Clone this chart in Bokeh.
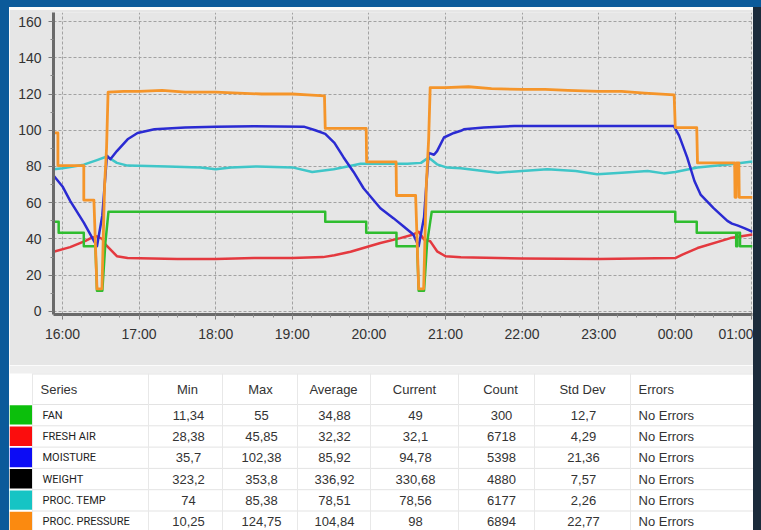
from bokeh.plotting import figure
from bokeh.models import Range1d, FixedTicker, ColumnDataSource, Div
from bokeh.layouts import column, row
from bokeh.embed import file_html
from bokeh.resources import INLINE
from bokeh.core.properties import value

# ---------------- data ----------------
# time in decimal hours (values above 24 are after midnight)
HOUR_TICKS = [16, 17, 18, 19, 20, 21, 22, 23, 24, 25]
HOUR_LABELS = ["16:00", "17:00", "18:00", "19:00", "20:00", "21:00", "22:00", "23:00", "00:00", "01:00"]
Y_TICKS = [0, 20, 40, 60, 80, 100, 120, 140, 160]

FAN_T = [15.883, 15.95, 15.95, 16.278, 16.278, 16.43, 16.45, 16.52, 16.56, 16.60, 19.43, 19.43,
         19.965, 19.965, 20.36, 20.36, 20.63, 20.65, 20.72, 20.76, 20.82, 24.0, 24.0, 24.28, 24.28,
         24.795, 24.795, 24.81, 24.81, 24.845, 24.845, 25.01]
FAN_V = [49.5, 49.5, 43.5, 43.5, 36, 36, 11.5, 11.5, 38, 55, 55, 49.5,
         49.5, 43.5, 43.5, 36, 36, 11.5, 11.5, 38, 55, 55, 49.5, 49.5, 43.5,
         43.5, 36, 36, 43.5, 43.5, 36, 36]

AIR_T = [15.883, 16.1, 16.3, 16.37, 16.45, 16.52, 16.56, 16.63, 16.71, 16.85, 17.5, 18.0, 18.5,
         19.0, 19.4, 19.55, 19.76, 20.15, 20.41, 20.58, 20.65, 20.72, 20.80, 20.89, 21.0, 21.2,
         22.0, 23.0, 24.0, 24.1, 24.29, 24.72, 25.01]
AIR_V = [33, 35.5, 39, 40.5, 41.5, 40, 37, 34, 30.5, 29.5, 29, 29, 29.5,
         29.5, 30, 31, 33, 37.8, 40.5, 42.5, 44, 39.7, 38.8, 33.2, 30.5, 29.9,
         29.2, 29, 29.5, 31.5, 35, 40.5, 42.5]

MOIST_T = [15.883, 16.0, 16.1, 16.278, 16.41, 16.45, 16.52, 16.58, 16.625, 16.71, 16.85, 16.98,
           17.2, 17.37, 17.6, 18.0, 18.5, 19.15, 19.3, 19.43, 19.55, 19.67, 19.8, 19.93, 20.15,
           20.32, 20.45, 20.58, 20.65, 20.72, 20.78, 20.85, 20.89, 20.98, 21.11, 21.2, 21.24,
           21.5, 21.9, 23.98, 24.05, 24.155, 24.25, 24.33, 24.5, 24.68, 24.74, 24.81, 24.9, 25.01]
MOIST_V = [75, 69, 61, 49, 39, 36, 53, 86, 84, 88.5, 95, 98.5,
           100.5, 101, 101.5, 102, 102.2, 102, 100, 98, 93, 85, 77, 68, 57,
           51.5, 47, 42.5, 36, 52, 87.5, 86.5, 88.5, 96, 98.5, 99.7, 100.5,
           101.5, 102.4, 102.4, 97, 85, 72, 64.5, 57, 50, 48.5, 47.5, 46, 44]

TEMP_T = [15.883, 16.0, 16.278, 16.45, 16.58, 16.71, 16.85, 17.37, 17.8, 18.0, 18.2, 18.54,
          19.0, 19.26, 19.54, 19.72, 19.89, 20.15, 20.5, 20.68, 20.78, 20.89, 21.02, 21.2,
          21.68, 22.0, 22.33, 22.7, 22.98, 23.3, 23.64, 23.85, 24.0, 24.29, 24.72, 25.01]
TEMP_V = [78.5, 79, 81, 83.5, 85.5, 82, 80.5, 80, 79.5, 78.5, 79.5, 80,
          79.5, 77, 78.5, 80, 81.5, 81.5, 81.5, 82, 85, 81.2, 79.4, 79,
          76.6, 77.5, 78.5, 77.5, 75.7, 76.5, 77.5, 76.2, 77, 79.4, 81.2, 82.7]

PRESS_T = [15.883, 15.94, 15.94, 16.278, 16.278, 16.41, 16.45, 16.515, 16.55, 16.575, 16.595,
           16.8, 17.0, 17.3, 17.6, 18.0, 18.3, 18.6, 19.0, 19.2, 19.42, 19.43, 19.965, 19.97,
           20.355, 20.36, 20.61, 20.65, 20.715, 20.75, 20.78, 20.80, 21.0, 21.3, 21.6, 22.0,
           22.3, 22.6, 23.0, 23.3, 23.6, 23.985, 24.0, 24.28, 24.29, 24.775, 24.78, 24.795,
           24.80, 24.83, 24.835, 25.01]
PRESS_V = [98.5, 98.5, 80.5, 80.5, 61.5, 61.5, 12.5, 12.5, 70, 90, 121,
           121.5, 121.5, 122, 121, 121, 120.5, 120, 120, 119.5, 119, 101, 101, 82.5,
           82.5, 64, 64, 12.5, 12.5, 70, 95, 123.5, 123.5, 124, 123, 122.5,
           122.5, 122, 121.5, 121.5, 120.5, 119.5, 101.5, 101.5, 82, 82, 63, 63,
           82, 82, 63, 63]

# table
SERIES = ["FAN", "FRESH AIR", "MOISTURE", "WEIGHT", "PROC. TEMP", "PROC. PRESSURE"]
SWATCH = ["#0cbf0c", "#fb0d0d", "#0c0cf5", "#000000", "#16c4c4", "#fb8a10"]
T_MIN = [11.34, 28.38, 35.7, 323.2, 74, 10.25]
T_MAX = [55, 45.85, 102.38, 353.8, 85.38, 124.75]
T_AVG = [34.88, 32.32, 85.92, 336.92, 78.51, 104.84]
T_CUR = [49, 32.1, 94.78, 330.68, 78.56, 98]
T_COUNT = [300, 6718, 5398, 4880, 6177, 6894]
T_STD = [12.7, 4.29, 21.36, 7.57, 2.26, 22.77]
T_ERR = ["No Errors"] * 6
HEADERS = ["Series", "Min", "Max", "Average", "Current", "Count", "Std Dev", "Errors"]

# ---------------- chart ----------------
PANEL = "#e6e6e6"
BLUE = "#0b5a9a"
DARK = "#1b2b3b"

chart = figure(width=744, height=356, output_backend="svg", toolbar_location=None,
               x_range=Range1d(15.8825, 25.008), y_range=Range1d(-1.66, 164.97),
               min_border_left=44, min_border_right=1, min_border_top=3, min_border_bottom=51,
               background_fill_color=PANEL, border_fill_color=PANEL, outline_line_color=None)
chart.frame_align = False

for g, t in ((chart.xgrid, HOUR_TICKS), (chart.ygrid, Y_TICKS)):
    g.ticker = FixedTicker(ticks=t)
    g.grid_line_color = "#a2a2a2"
    g.grid_line_dash = "3 2"
    g.grid_line_width = 1

quarters = [15.75 + 0.25 * i for i in range(38)]
chart.xaxis.ticker = FixedTicker(ticks=HOUR_TICKS, minor_ticks=quarters)
chart.xaxis.major_label_overrides = {h: lab for h, lab in zip(HOUR_TICKS, HOUR_LABELS)}
chart.yaxis.ticker = FixedTicker(ticks=Y_TICKS, minor_ticks=[y + 10 for y in Y_TICKS[:-1]])

for ax in (chart.xaxis[0], chart.yaxis[0]):
    ax.axis_line_width = 3
    ax.axis_line_color = "#6a6a6a"
    ax.major_tick_line_color = "#7a7a7a"
    ax.minor_tick_line_color = "#8a8a8a"
    ax.major_tick_in = 0
    ax.minor_tick_in = 0
    ax.major_tick_out = 5
    ax.minor_tick_out = 3
    ax.major_label_text_font = "Liberation Sans"
    ax.major_label_text_font_size = "14px"
    ax.major_label_text_color = "#333333"
chart.yaxis.major_label_standoff = 7
chart.xaxis.major_label_standoff = 6

lines = [
    (TEMP_T, TEMP_V, "#3fc6c8", 2.5),
    (AIR_T, AIR_V, "#e4393f", 2.5),
    (MOIST_T, MOIST_V, "#2b2bd2", 2.5),
    (FAN_T, FAN_V, "#2fbd2f", 2.5),
    (PRESS_T, PRESS_V, "#f5952a", 2.8),
]
for t, v, c, w in lines:
    chart.line(t, v, line_color=c, line_width=w, line_join="round")

# ---------------- table ----------------
TOP, BOTTOM = 365, 530
table = figure(width=744, height=BOTTOM - TOP, output_backend="svg", toolbar_location=None,
               x_range=Range1d(9, 753), y_range=Range1d(BOTTOM, TOP), min_border=0,
               x_axis_location=None, y_axis_location=None,
               background_fill_color="#ffffff", border_fill_color="#ffffff",
               outline_line_color=None)
table.frame_align = False
table.grid.visible = False

HEAD_TOP = 373.0
ROW0 = 404.0
ROW_H = 21.3

# light band between chart and table
table.quad(left=9, right=753, top=TOP, bottom=HEAD_TOP, fill_color="#efefef", line_color=None)

n = len(SERIES)
row_tops = [ROW0 + ROW_H * i for i in range(n)]
row_mid = [t + ROW_H / 2 for t in row_tops]

# swatches
table.quad(left=[9] * n, right=[32] * n, top=[t + 0.7 for t in row_tops],
           bottom=[t + ROW_H - 1.2 for t in row_tops], fill_color=SWATCH, line_color=None)

# grid lines
hl = [HEAD_TOP + 0.5] + row_tops
table.segment(x0=[32] * len(hl), x1=[753] * len(hl), y0=hl, y1=hl, line_color="#e3e3e3", line_width=1)
COL_EDGES = [32, 148, 222, 297, 370, 458, 534, 630]
table.segment(x0=COL_EDGES, x1=COL_EDGES, y0=[HEAD_TOP] * len(COL_EDGES), y1=[BOTTOM] * len(COL_EDGES),
              line_color="#e8e8e8", line_width=1)

# header
HX = [40, 187, 260, 333, 414, 500, 582, 638]
HALIGN = ["left", "center", "center", "center", "center", "center", "center", "left"]
head_mid = (HEAD_TOP + ROW0) / 2
table.text(x=HX, y=[head_mid] * len(HX), text=HEADERS, text_align=HALIGN, text_baseline="middle",
           text_font=value("Liberation Sans"), text_font_size="13px", text_color="#333333")

# names
table.text(x=[42] * n, y=row_mid, text=SERIES, text_baseline="middle", text_align="left",
           text_font=value("Roboto"), text_font_size="11px", text_color="#1e1e1e")


def fmt(v):
    return ("%g" % v).replace(".", ",")


cols = [T_MIN, T_MAX, T_AVG, T_CUR, T_COUNT, T_STD]
for cx, vals in zip(HX[1:7], cols):
    src = ColumnDataSource(dict(x=[cx + 1] * n, y=row_mid, t=[fmt(v) for v in vals]))
    table.text(x="x", y="y", text="t", source=src, text_align="center", text_baseline="middle",
               text_font=value("Liberation Sans"), text_font_size="13px", text_color="#333333")
table.text(x=[HX[7]] * n, y=row_mid, text=T_ERR, text_align="left", text_baseline="middle",
           text_font=value("Liberation Sans"), text_font_size="13px", text_color="#333333")

# ---------------- frame (blue window border) ----------------
top_band = Div(width=761, height=7, margin=0, styles={"background-color": BLUE})
left_band = Div(width=9, height=523, margin=0, styles={"background-color": BLUE})
right_band = Div(width=8, height=523, margin=0, styles={"background-color": DARK})
white_line = Div(width=744, height=2, margin=0, styles={"background-color": "#fafafa"})

layout = column(top_band,
                row(left_band, column(white_line, chart, table), right_band))

open("out.html", "w").write(file_html(layout, INLINE))
